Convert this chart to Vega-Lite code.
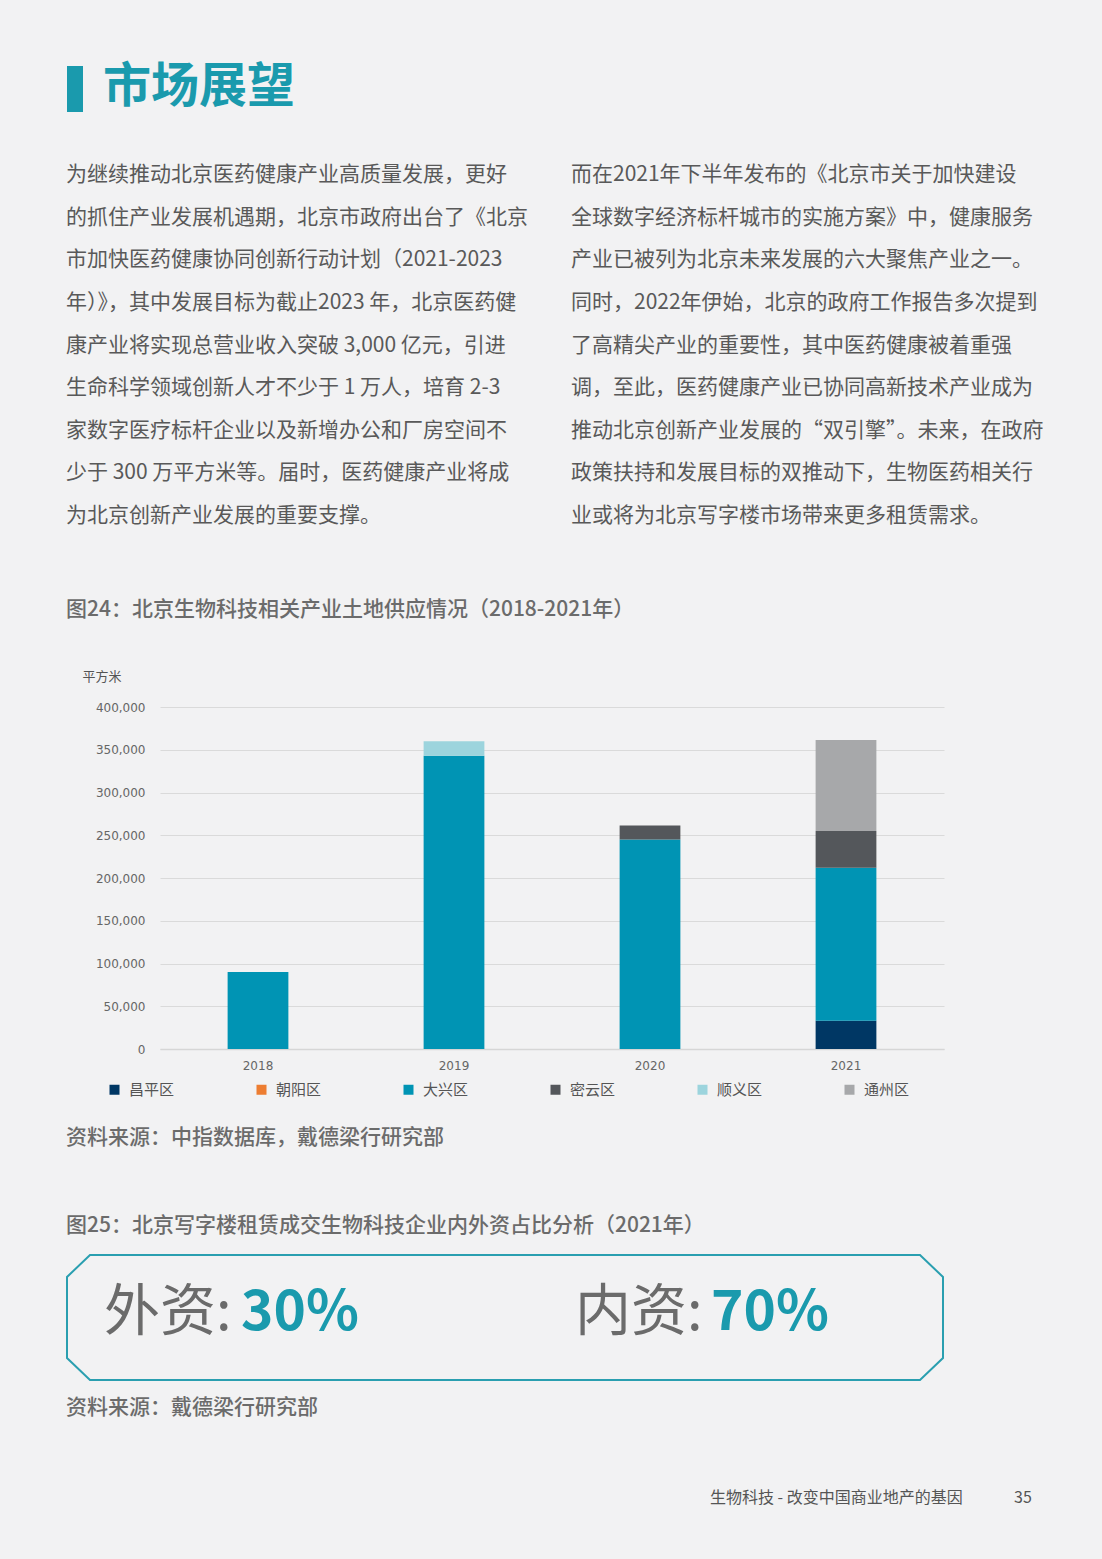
{
  "$schema": "https://vega.github.io/schema/vega-lite/v6.json",
  "width": 784,
  "height": 342,
  "autosize": {"type": "none"},
  "padding": {"left": 160, "top": 707, "right": 158, "bottom": 510},
  "background": "#f2f2f3",
  "config": {
    "view": {"stroke": null},
    "font": "Noto Sans CJK SC",
    "text": {"font": "Noto Sans CJK SC"}
  },
  "datasets": {
    "supply": [
      {"year": "2018", "district": "大兴区", "legendRank": 3, "area": 90000},
      {"year": "2019", "district": "大兴区", "legendRank": 3, "area": 343000},
      {"year": "2019", "district": "顺义区", "legendRank": 5, "area": 17000},
      {"year": "2020", "district": "大兴区", "legendRank": 3, "area": 245000},
      {"year": "2020", "district": "密云区", "legendRank": 4, "area": 16500},
      {"year": "2021", "district": "昌平区", "legendRank": 1, "area": 33000},
      {"year": "2021", "district": "大兴区", "legendRank": 3, "area": 179000},
      {"year": "2021", "district": "密云区", "legendRank": 4, "area": 43000},
      {"year": "2021", "district": "通州区", "legendRank": 6, "area": 106500}
    ],
    "paragraphs": [
      {"col": 1, "line": 1, "text": "为继续推动北京医药健康产业高质量发展，更好"},
      {"col": 1, "line": 2, "text": "的抓住产业发展机遇期，北京市政府出台了《北京"},
      {"col": 1, "line": 3, "text": "市加快医药健康协同创新行动计划（2021-2023"},
      {"col": 1, "line": 4, "text": "年）》，其中发展目标为截止2023 年，北京医药健"},
      {"col": 1, "line": 5, "text": "康产业将实现总营业收入突破 3,000 亿元，引进"},
      {"col": 1, "line": 6, "text": "生命科学领域创新人才不少于 1 万人，培育 2-3"},
      {"col": 1, "line": 7, "text": "家数字医疗标杆企业以及新增办公和厂房空间不"},
      {"col": 1, "line": 8, "text": "少于 300 万平方米等。届时，医药健康产业将成"},
      {"col": 1, "line": 9, "text": "为北京创新产业发展的重要支撑。"},
      {"col": 2, "line": 1, "text": "而在2021年下半年发布的《北京市关于加快建设"},
      {"col": 2, "line": 2, "text": "全球数字经济标杆城市的实施方案》中，健康服务"},
      {"col": 2, "line": 3, "text": "产业已被列为北京未来发展的六大聚焦产业之一。"},
      {"col": 2, "line": 4, "text": "同时，2022年伊始，北京的政府工作报告多次提到"},
      {"col": 2, "line": 5, "text": "了高精尖产业的重要性，其中医药健康被着重强"},
      {"col": 2, "line": 6, "text": "调，至此，医药健康产业已协同高新技术产业成为"},
      {"col": 2, "line": 7, "text": "推动北京创新产业发展的“双引擎”。未来，在政府"},
      {"col": 2, "line": 8, "text": "政策扶持和发展目标的双推动下，生物医药相关行"},
      {"col": 2, "line": 9, "text": "业或将为北京写字楼市场带来更多租赁需求。"}
    ],
    "captions": [
      {"seq": 1, "text": "图24：北京生物科技相关产业土地供应情况（2018-2021年）"},
      {"seq": 2, "text": "资料来源：中指数据库，戴德梁行研究部"},
      {"seq": 3, "text": "图25：北京写字楼租赁成交生物科技企业内外资占比分析（2021年）"},
      {"seq": 4, "text": "资料来源：戴德梁行研究部"}
    ],
    "shares": [
      {"type": "外资", "label": "外资:", "share": 0.3},
      {"type": "内资", "label": "内资:", "share": 0.7}
    ],
    "heading": [{"text": "市场展望"}],
    "footer": [
      {"part": "title", "text": "生物科技 - 改变中国商业地产的基因"},
      {"part": "page", "text": "35"}
    ]
  },
  "resolve": {
    "scale": {"x": "independent", "y": "independent", "color": "independent", "size": "independent"},
    "axis": {"x": "independent", "y": "independent"}
  },
  "layer": [
    {
      "data": {"name": "supply"},
      "mark": {"type": "bar"},
      "encoding": {
        "x": {
          "field": "year", "type": "nominal",
          "scale": {"paddingInner": 0.69, "paddingOuter": 0.345},
          "axis": {
            "title": null, "labelAngle": 0, "ticks": false, "domain": true,
            "domainColor": "#d6d6d6", "domainWidth": 1.5,
            "labelFont": "DejaVu Sans", "labelFontSize": 12, "labelColor": "#666666",
            "labelPadding": 11
          }
        },
        "y": {
          "field": "area", "type": "quantitative",
          "stack": "zero",
          "scale": {"domain": [0, 400000], "nice": false},
          "axis": {
            "title": "平方米", "titleAngle": 0, "titleX": -78, "titleY": -31,
            "titleAlign": "left", "titleBaseline": "middle",
            "titleFont": "Noto Sans CJK SC", "titleFontSize": 13, "titleFontWeight": "normal",
            "titleColor": "#555555",
            "values": [0, 50000, 100000, 150000, 200000, 250000, 300000, 350000, 400000],
            "format": ",d", "domain": false, "ticks": false,
            "labelFont": "DejaVu Sans", "labelFontSize": 12, "labelColor": "#666666",
            "labelPadding": 15,
            "grid": true, "gridColor": "#dadada", "gridWidth": 1.2
          }
        },
        "color": {
          "field": "district", "type": "nominal",
          "scale": {
            "domain": ["昌平区", "朝阳区", "大兴区", "密云区", "顺义区", "通州区"],
            "range": ["#003764", "#ED7D31", "#0094B4", "#54575B", "#9CD4DD", "#A7A8AA"]
          },
          "legend": {
            "title": null, "orient": "none", "legendX": -53, "legendY": 375,
            "direction": "horizontal", "columns": 6,
            "symbolType": "square", "symbolSize": 100, "symbolStrokeWidth": 0,
            "labelFont": "Noto Sans CJK SC", "labelFontSize": 15, "labelColor": "#555555",
            "labelOffset": 7, "columnPadding": 79
          }
        },
        "order": {"field": "legendRank", "type": "quantitative", "sort": "ascending"}
      }
    },
    {
      "data": {"name": "heading"},
      "mark": {"type": "rect", "color": "#1a9aad"},
      "encoding": {
        "x": {"datum": 0, "type": "quantitative", "scale": {"domain": [0, 1], "range": [-93, -77]}, "axis": null},
        "x2": {"datum": 1},
        "y": {"datum": 0, "type": "quantitative", "scale": {"domain": [0, 1], "range": [-641, -595]}, "axis": null},
        "y2": {"datum": 1}
      }
    },
    {
      "data": {"name": "heading"},
      "mark": {"type": "text", "align": "left", "baseline": "middle", "fontSize": 48, "fontWeight": "bold", "color": "#1a9aad"},
      "encoding": {
        "x": {"datum": 0, "type": "quantitative", "scale": {"domain": [0, 1], "range": [-57, 0]}, "axis": null},
        "y": {"datum": 0, "type": "quantitative", "scale": {"domain": [0, 1], "range": [-619, 0]}, "axis": null},
        "text": {"field": "text"}
      }
    },
    {
      "data": {"name": "paragraphs"},
      "mark": {"type": "text", "align": "left", "baseline": "middle", "fontSize": 21, "color": "#595959"},
      "encoding": {
        "x": {"field": "col", "type": "quantitative", "scale": {"domain": [1, 2], "range": [-94, 411]}, "axis": null},
        "y": {"field": "line", "type": "quantitative", "scale": {"domain": [1, 9], "range": [-532, -191]}, "axis": null},
        "text": {"field": "text"}
      }
    },
    {
      "data": {"name": "captions"},
      "mark": {"type": "text", "align": "left", "baseline": "middle", "fontSize": 21, "fontWeight": 500, "color": "#6b6b6b"},
      "encoding": {
        "x": {"datum": 0, "type": "quantitative", "scale": {"domain": [0, 1], "range": [-94, 0]}, "axis": null},
        "y": {"field": "seq", "type": "quantitative", "scale": {"domain": [1, 2, 3, 4], "range": [-97, 431, 519, 701]}, "axis": null},
        "text": {"field": "text"}
      }
    },
    {
      "data": {"name": "heading"},
      "mark": {
        "type": "point", "filled": false, "stroke": "#2a9fb0", "strokeWidth": 2, "opacity": 1,
        "shape": "M -0.9475 -0.1427 L 0.9475 -0.1427 L 1 -0.0925 L 1 0.0925 L 0.9475 0.1427 L -0.9475 0.1427 L -1 0.0925 L -1 -0.0925 Z",
        "size": 767376
      },
      "encoding": {
        "x": {"datum": 0, "type": "quantitative", "scale": {"domain": [0, 1], "range": [345, 0]}, "axis": null},
        "y": {"datum": 0, "type": "quantitative", "scale": {"domain": [0, 1], "range": [610.5, 0]}, "axis": null}
      }
    },
    {
      "data": {"name": "shares"},
      "mark": {"type": "text", "align": "left", "baseline": "middle", "fontSize": 56, "color": "#6b6b6b"},
      "encoding": {
        "x": {"field": "type", "type": "nominal", "scale": {"type": "point", "domain": ["外资", "内资"], "range": [-56, 415], "padding": 0}, "axis": null},
        "y": {"datum": 0, "type": "quantitative", "scale": {"domain": [0, 1], "range": [606, 0]}, "axis": null},
        "text": {"field": "label"}
      }
    },
    {
      "data": {"name": "shares"},
      "mark": {"type": "text", "align": "left", "baseline": "middle", "fontSize": 55, "fontWeight": "bold", "color": "#1a9aad"},
      "encoding": {
        "x": {"field": "type", "type": "nominal", "scale": {"type": "point", "domain": ["外资", "内资"], "range": [81, 551], "padding": 0}, "axis": null},
        "y": {"datum": 0, "type": "quantitative", "scale": {"domain": [0, 1], "range": [606, 0]}, "axis": null},
        "text": {"field": "share", "format": ".0%"}
      }
    },
    {
      "data": {"name": "footer"},
      "mark": {"type": "text", "align": "left", "baseline": "middle", "fontSize": 16, "color": "#555555"},
      "encoding": {
        "x": {"field": "part", "type": "nominal", "scale": {"type": "point", "domain": ["title", "page"], "range": [550, 854], "padding": 0}, "axis": null},
        "y": {"datum": 0, "type": "quantitative", "scale": {"domain": [0, 1], "range": [791, 0]}, "axis": null},
        "text": {"field": "text"}
      }
    }
  ]
}
